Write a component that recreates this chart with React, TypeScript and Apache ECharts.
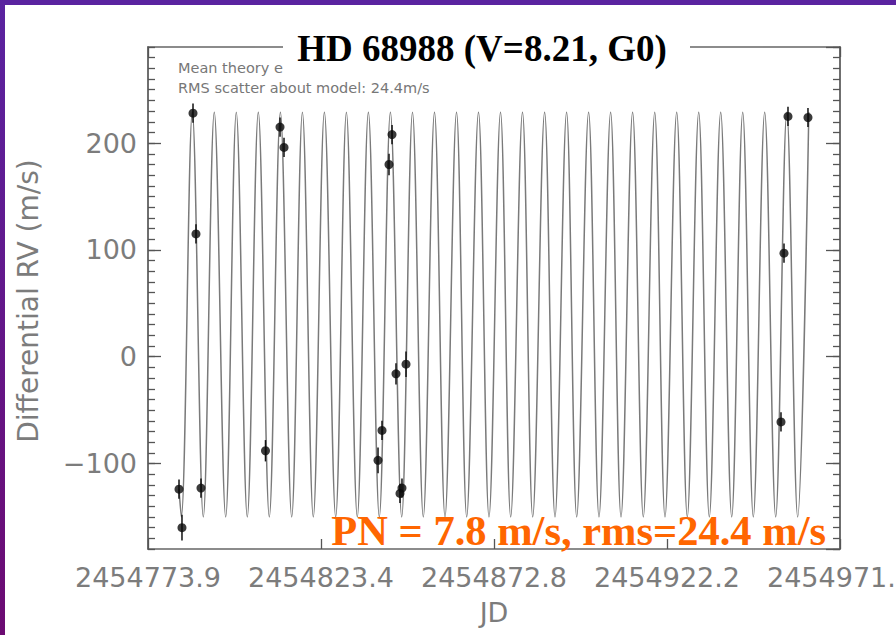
import React, { useEffect, useRef } from 'react';
import * as echarts from 'echarts';

// x values are days after JD 2454773.93
const X_MAX = 197.72;
const X_INTERVAL = 49.43;
const xTickLabels = ['2454773.9', '2454823.4', '2454872.8', '2454922.2', '2454971.6'];
const Y_MIN = -180;
const Y_MAX = 290;

// observations
const obsDays = [8.86, 9.71, 12.86, 13.71, 15.14, 33.57, 37.72, 38.86, 65.72, 66.86, 68.86, 69.72, 70.86, 72.0, 72.57, 73.72, 180.86, 181.72, 182.86, 188.57];
const obsRV = [-124, -160, 228, 115, -123, -88, 215, 196, -97, -69, 180, 208, -16, -128, -123, -7, -61, 97, 225, 224];
const obsErr = [9, 12, 9, 9, 9, 10, 9, 9, 12, 9, 10, 9, 10, 9, 9, 12, 9, 9, 9, 9];

// model curve: start point, then alternating troughs and peaks
const modelDays = [
  8.86,
  9.51, 12.66, 15.8, 18.94, 22.2, 25.23, 28.37, 31.52, 34.66, 37.83,
  41.06, 44.12, 47.23, 50.4, 53.63, 56.69, 59.8, 62.97, 66.09, 69.26,
  72.49, 75.57, 78.66, 81.86, 84.86, 88.15, 91.06, 94.43, 97.43, 100.72,
  103.63, 107.0, 109.92, 113.32, 116.29, 119.6, 122.49, 125.89, 128.86, 132.18,
  135.15, 138.46, 141.52, 144.78, 147.72, 151.06, 154.09, 157.35, 160.38, 163.63,
  166.78, 169.92, 172.95, 176.2, 179.35, 182.52, 185.63, 188.81,
];
const modelRV = [
  -124,
  -150, 229, -150, 229, -150, 229, -150, 229, -150, 229,
  -150, 229, -150, 229, -150, 229, -150, 229, -150, 229,
  -150, 229, -150, 229, -150, 229, -150, 229, -150, 229,
  -150, 229, -150, 229, -150, 229, -150, 229, -150, 229,
  -150, 229, -150, 229, -150, 229, -150, 229, -150, 229,
  -150, 229, -150, 229, -150, 229, -150, 229,
];

const AXIS_FONT = 'DejaVu Sans';
const AXIS_COLOR = '#7c7c7c';

export default function App() {
  const ref = useRef<HTMLDivElement>(null);

  useEffect(() => {
    const chart = echarts.init(ref.current as HTMLDivElement, null, { renderer: 'svg' });
    const lineStyle = { color: '#666', width: 1.5 };
    const tickStyle = { color: '#555', width: 1.3 };
    const yBase = {
      type: 'value' as const,
      min: Y_MIN,
      max: Y_MAX,
      splitLine: { show: false },
      axisLine: { show: true, onZero: false, lineStyle },
    };
    const xBase = {
      type: 'value' as const,
      min: 0,
      max: X_MAX,
      interval: X_INTERVAL,
      splitLine: { show: false },
      axisLine: { show: true, onZero: false, lineStyle },
      axisTick: { show: true, inside: true, length: 10, lineStyle: tickStyle },
    };

    const option: any = {
      animation: false,
      backgroundColor: '#ffffff',
      grid: { left: 148, top: 47, width: 692, height: 502, containLabel: false, outerBoundsMode: 'none' },
      xAxis: [
        {
          ...xBase,
          position: 'bottom',
          axisLabel: {
            show: true,
            formatter: (v: number) => xTickLabels[Math.round(v / X_INTERVAL)] ?? '',
            fontSize: 27,
            fontFamily: AXIS_FONT,
            color: AXIS_COLOR,
            margin: 15,
            showMinLabel: true,
            showMaxLabel: true,
          },
          name: 'JD',
          nameLocation: 'middle',
          nameGap: 50,
          nameTextStyle: { fontSize: 27, fontFamily: AXIS_FONT, color: AXIS_COLOR },
        },
        {
          ...xBase,
          position: 'top',
          axisLabel: { show: false },
        },
      ],
      yAxis: [
        {
          ...yBase,
          position: 'left',
          interval: 10,
          axisTick: { show: true, inside: true, length: 7, lineStyle: tickStyle },
          axisLabel: { show: false },
        },
        {
          ...yBase,
          position: 'left',
          axisTick: { show: true, inside: true, length: 13, lineStyle: tickStyle },
          axisLabel: {
            show: true,
            showMinLabel: false,
            showMaxLabel: false,
            formatter: (v: number) => (v % 100 === 0 ? String(v).replace('-', '\u2212') : ''),
            fontSize: 27,
            fontFamily: AXIS_FONT,
            color: AXIS_COLOR,
            margin: 11,
          },
        },
        {
          ...yBase,
          position: 'right',
          interval: 10,
          axisTick: { show: true, inside: true, length: 7, lineStyle: tickStyle },
          axisLabel: { show: false },
        },
        {
          ...yBase,
          position: 'right',
          axisTick: { show: true, inside: true, length: 14, lineStyle: tickStyle },
          axisLabel: { show: false },
        },
      ],
      series: [
        {
          type: 'line',
          xAxisIndex: 0,
          yAxisIndex: 0,
          data: modelDays.map((d, i) => [d, modelRV[i]]),
          smooth: 0.36,
          showSymbol: false,
          symbol: 'none',
          lineStyle: { color: '#7a7a7a', width: 1.5 },
          z: 2,
          silent: true,
        },
        {
          type: 'custom',
          xAxisIndex: 0,
          yAxisIndex: 0,
          data: obsDays.map((d, i) => [d, obsRV[i], obsErr[i]]),
          renderItem: (params: any, api: any) => {
            const x = api.value(0);
            const y = api.value(1);
            const e = api.value(2);
            const top = api.coord([x, y + e]);
            const bot = api.coord([x, y - e]);
            return {
              type: 'line',
              shape: { x1: top[0], y1: top[1], x2: bot[0], y2: bot[1] },
              style: { stroke: '#111', lineWidth: 1.5 },
            };
          },
          z: 3,
          silent: true,
        },
        {
          type: 'scatter',
          xAxisIndex: 0,
          yAxisIndex: 0,
          data: obsDays.map((d, i) => [d, obsRV[i]]),
          symbol: 'circle',
          symbolSize: 9,
          itemStyle: { color: '#0a0a0a' },
          z: 4,
          silent: true,
        },
      ],
      graphic: [
        { type: 'rect', z: 22, shape: { x: 0, y: 0, width: 896, height: 5 }, style: { fill: '#5a23a0' } },
        {
          type: 'rect',
          z: 22,
          shape: { x: 0, y: 0, width: 5, height: 635 },
          style: {
            fill: new echarts.graphic.LinearGradient(0, 0, 0, 1, [
              { offset: 0, color: '#5a23a0' },
              { offset: 1, color: '#6c0b72' },
            ]),
          },
        },
        // in-plot annotation texts
        {
          type: 'text',
          x: 178,
          y: 68,
          z: 5,
          style: { text: 'Mean theory e', fontSize: 14.5, fontFamily: AXIS_FONT, fill: '#777', align: 'left', verticalAlign: 'middle' },
        },
        {
          type: 'text',
          x: 178,
          y: 88,
          z: 5,
          style: { text: 'RMS scatter about model: 24.4m/s', fontSize: 14.5, fontFamily: AXIS_FONT, fill: '#777', align: 'left', verticalAlign: 'middle' },
        },
        // y axis name
        {
          type: 'text',
          x: 28,
          y: 301,
          rotation: Math.PI / 2,
          z: 5,
          style: { text: 'Differential RV (m/s)', fontSize: 28, fontFamily: AXIS_FONT, fill: AXIS_COLOR, align: 'center', verticalAlign: 'middle' },
        },
        // title box + title
        { type: 'rect', z: 20, shape: { x: 283, y: 24, width: 407, height: 54 }, style: { fill: '#ffffff' } },
        {
          type: 'text',
          x: 482,
          y: 48,
          z: 21,
          style: {
            text: 'HD 68988 (V=8.21, G0)',
            fontSize: 37,
            fontWeight: 'bold',
            fontFamily: 'Liberation Serif',
            fill: '#000000',
            align: 'center',
            verticalAlign: 'middle',
          },
        },
        {
          type: 'text',
          x: 826,
          y: 530,
          z: 21,
          style: {
            text: 'PN = 7.8 m/s, rms=24.4 m/s',
            fontSize: 42.5,
            fontWeight: 'bold',
            fontFamily: 'Liberation Serif',
            fill: '#ff6600',
            align: 'right',
            verticalAlign: 'middle',
          },
        },
      ],
    };

    chart.setOption(option);
    return () => chart.dispose();
  }, []);

  return (
    <div
      ref={ref}
      style={{ position: 'absolute', left: 0, top: 0, width: 896, height: 635, background: '#ffffff' }}
    />
  );
}
